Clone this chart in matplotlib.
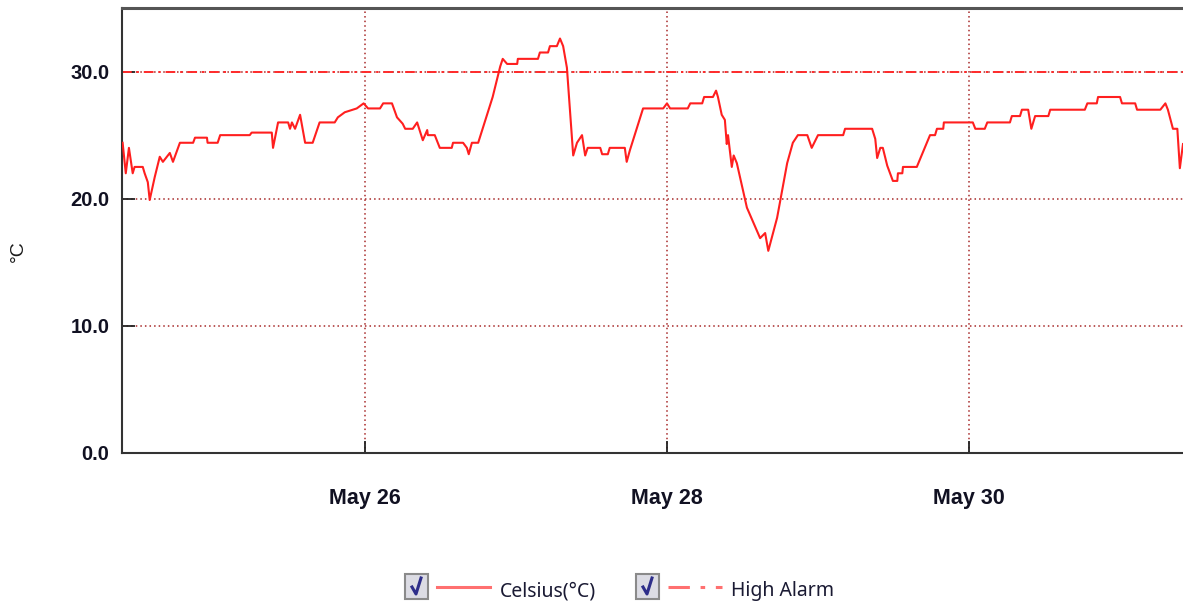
import matplotlib
matplotlib.use("Agg")
import matplotlib.pyplot as plt
import matplotlib.dates as mdates
from matplotlib.lines import Line2D
from matplotlib.patches import Rectangle
from datetime import datetime, timedelta

# readings: hours after 2021-05-24 00:00 and temperature in Celsius
START = datetime(2021, 5, 24)
HOURS = [9.5, 10.0, 10.5, 11.1, 11.4, 12.7, 13.0, 13.5, 13.8, 14.6, 15.4, 15.9, 17.0, 17.5, 18.6,
         20.7, 21.0, 22.9, 23.0, 24.6, 25.0, 29.7, 30.0, 33.2, 33.4, 34.2, 35.8, 36.1, 36.4, 36.9,
         37.7, 38.5, 39.7, 40.8, 43.2, 43.7, 44.8, 46.7, 47.8, 48.5, 50.4, 50.9, 52.3, 53.1, 54.0,
         54.4, 55.6, 56.3, 57.2, 57.9, 58.0, 59.1, 59.9, 61.8, 62.0, 63.6, 64.2, 64.5, 65.0, 66.0,
         68.3, 69.5, 69.9, 70.6, 72.2, 72.3, 75.5, 75.8, 77.1, 77.4, 78.5, 79.0, 79.5, 80.1, 81.1,
         81.7, 82.5, 83.0, 83.4, 85.4, 85.7, 86.6, 86.9, 89.3, 89.6, 90.1, 92.2, 95.4, 96.0, 96.5,
         99.3, 99.7, 101.6, 101.9, 103.3, 103.8, 104.1, 104.7, 105.2, 105.5, 105.7, 106.3, 106.6,
         107.1, 108.7, 110.8, 111.6, 112.1, 113.5, 115.1, 116.0, 116.8, 118.3, 119.0, 120.0, 124.0,
         124.3, 128.6, 129.1, 129.4, 129.9, 130.3, 131.0, 131.9, 132.6, 132.7, 133.4, 133.5, 135.7,
         137.3, 137.8, 138.6, 138.9, 139.9, 140.0, 144.6, 145.0, 146.5, 146.9, 150.5, 150.8, 152.1,
         152.4, 153.4, 153.9, 154.5, 156.6, 156.9, 162.4, 162.8, 164.3, 164.5, 168.0, 168.3, 170.4,
         170.7, 174.4, 175.2, 175.6, 176.4, 177.1, 177.5, 178.0]
CELSIUS = [24.4, 22.0, 24.0, 22.0, 22.5, 22.5, 22.0, 21.3, 19.9, 21.7, 23.3, 22.9, 23.6, 22.9, 24.4,
           24.4, 24.8, 24.8, 24.4, 24.4, 25.0, 25.0, 25.2, 25.2, 24.0, 26.0, 26.0, 25.5, 26.0, 25.5,
           26.6, 24.4, 24.4, 26.0, 26.0, 26.4, 26.8, 27.1, 27.5, 27.1, 27.1, 27.5, 27.5, 26.4, 25.9,
           25.5, 25.5, 26.0, 24.6, 25.4, 25.0, 25.0, 24.0, 24.0, 24.4, 24.4, 24.0, 23.5, 24.4, 24.4,
           28.0, 30.4, 31.0, 30.6, 30.6, 31.0, 31.0, 31.5, 31.5, 32.0, 32.0, 32.6, 32.0, 30.3, 23.4,
           24.4, 25.0, 23.4, 24.0, 24.0, 23.5, 23.5, 24.0, 24.0, 22.9, 23.8, 27.1, 27.1, 27.5, 27.1,
           27.1, 27.5, 27.5, 28.0, 28.0, 28.5, 28.0, 26.6, 26.2, 24.3, 25.0, 22.5, 23.4,
           22.8, 19.3, 16.9, 17.3, 15.9, 18.5, 22.8, 24.4, 25.0, 25.0, 24.0, 25.0, 25.0,
           25.5, 25.5, 24.7, 23.2, 24.0, 24.0, 22.6, 21.4, 21.4, 22.0, 22.0, 22.5, 22.5,
           24.4, 25.0, 25.0, 25.5, 25.5, 26.0, 26.0, 25.5, 25.5, 26.0, 26.0, 26.5, 26.5,
           27.0, 27.0, 25.5, 26.5, 26.5, 27.0, 27.0, 27.5, 27.5, 28.0, 28.0, 27.5, 27.5,
           27.0, 27.0, 27.5, 27.0, 25.5, 25.5, 22.4, 24.3]
HIGH_ALARM = 30.0
Y_TICKS = [0, 10, 20, 30]
X_RANGE_HOURS = (9.4, 178.0)

times = [START + timedelta(hours=h) for h in HOURS]

fig = plt.figure(figsize=(11.83, 6.08), dpi=100)
ax = fig.add_axes([122 / 1183, 1 - 453 / 608, 1 - 122 / 1183, (453 - 8) / 608])

grid_kw = dict(color="#a82a2a", linestyle=(0, (1, 2.0)), linewidth=1.1, zorder=1)
for y in Y_TICKS[1:]:
    ax.axhline(y, **grid_kw)
for d in [26, 28, 30]:
    ax.axvline(datetime(2021, 5, d), **grid_kw)

ax.axhline(HIGH_ALARM, color="#ff2a2a", linestyle=(0, (5, 2.5, 1.2, 2.5)), linewidth=1.4, zorder=2)
ax.plot(times, CELSIUS, color="#ff1f1f", linewidth=1.5, zorder=3)

ax.set_ylim(0, 35)
ax.set_xlim(START + timedelta(hours=X_RANGE_HOURS[0]), START + timedelta(hours=X_RANGE_HOURS[1]))
ax.set_yticks(Y_TICKS)
ax.set_yticklabels([f"{v:.1f}" for v in Y_TICKS])
ax.xaxis.set_major_locator(mdates.DayLocator(bymonthday=[26, 28, 30]))
ax.xaxis.set_major_formatter(mdates.DateFormatter("%b %d"))

for lbl in ax.get_yticklabels():
    lbl.set(fontfamily="Liberation Sans", fontweight="bold", fontsize=14.5, color="#111122")
for lbl in ax.get_xticklabels():
    lbl.set(fontfamily="Liberation Sans", fontweight="bold", fontsize=15.5, color="#111122")
ax.tick_params(axis="y", direction="in", length=9, width=1.3, color="#222222", pad=9)
ax.tick_params(axis="x", direction="in", length=9, width=1.3, color="#222222", pad=25)

for side in ["left", "bottom", "top"]:
    ax.spines[side].set_color("#333333")
    ax.spines[side].set_linewidth(1.5)
ax.spines["top"].set_color("#555555")
ax.spines["top"].set_linewidth(2.2)
ax.spines["right"].set_visible(False)

fig.text(18 / 1183, 1 - 251 / 608, "°C", rotation=90, ha="center", va="center",
         fontsize=14, color="#1a1a1a", family="Liberation Sans")


# legend with check boxes, drawn in pixel positions
def px(x, y):
    return x / 1183, 1 - y / 608


def checkbox(x0):
    bx, by = px(x0, 599)
    fig.add_artist(Rectangle((bx, by), 23 / 1183, 25 / 608, transform=fig.transFigure,
                             facecolor="#dcdce4", edgecolor="#8a8a8a", linewidth=1.5))
    cx, cy = zip(px(x0 + 7, 587), px(x0 + 11, 594), px(x0 + 16, 578))
    fig.add_artist(Line2D(cx, cy, transform=fig.transFigure, color="#2e2e8a", linewidth=2.2))


checkbox(405)
fig.add_artist(Line2D(*zip(px(437, 587), px(490, 587)), transform=fig.transFigure,
                      color="#ff7070", linewidth=2.2))
fig.text(*px(500, 591), "Celsius(°C)", ha="left", va="center", fontsize=14,
         color="#1a1a33", family="Noto Sans")

checkbox(636)
fig.add_artist(Line2D(*zip(px(668, 587), px(722, 587)), transform=fig.transFigure,
                      color="#ff7070", linewidth=2.2, linestyle=(0, (7, 3.5, 1.5, 3.5))))
fig.text(*px(731, 591), "High Alarm", ha="left", va="center", fontsize=14,
         color="#1a1a33", family="Noto Sans")

fig.savefig("out.png", dpi=100)
